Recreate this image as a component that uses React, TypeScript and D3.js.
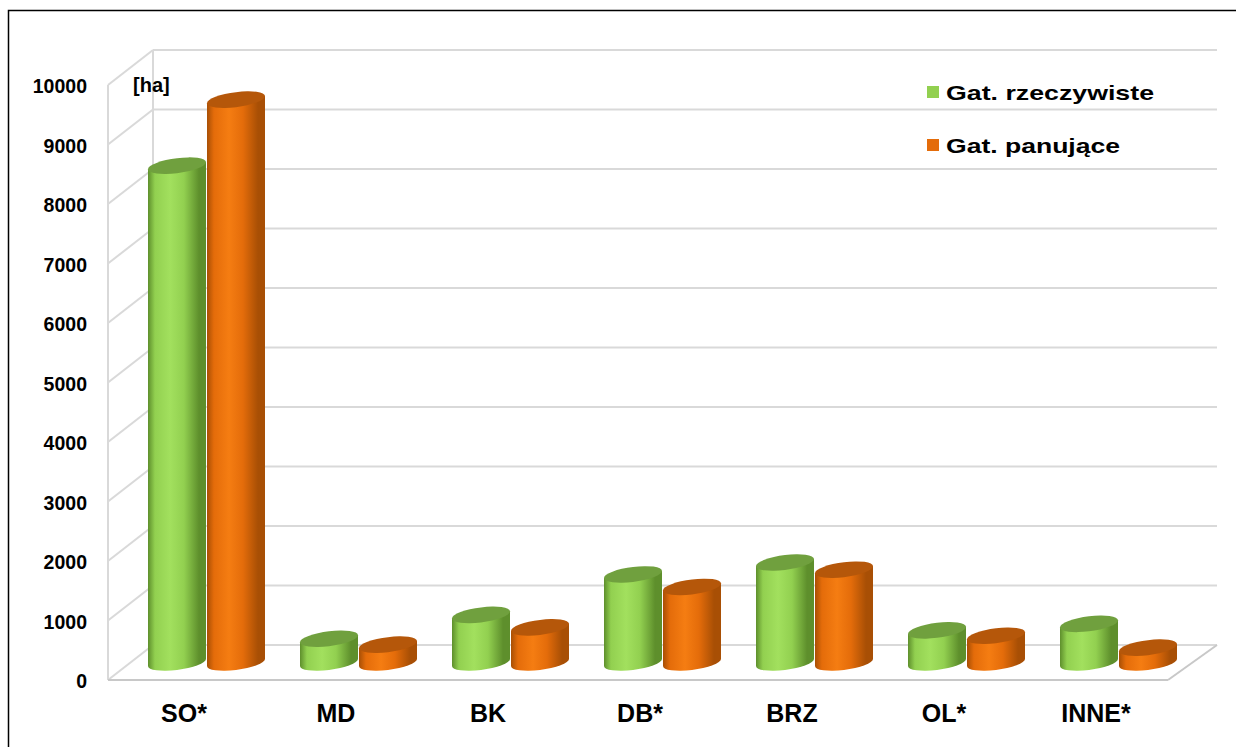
import React from "react";
import * as d3 from "d3";

const categories = ["SO*", "MD", "BK", "DB*", "BRZ", "OL*", "INNE*"];
const seriesNames = ["Gat. rzeczywiste", "Gat. panujące"];
const rzeczywiste = [8350, 400, 800, 1480, 1680, 540, 650];
const panujace = [9460, 300, 590, 1270, 1560, 450, 250];
const yTicks = [0, 1000, 2000, 3000, 4000, 5000, 6000, 7000, 8000, 9000, 10000];
const unitLabel = "[ha]";

const W = 1236;
const H = 747;
const DX = 45; // depth offset x
const DY = -35; // depth offset y
const FONT = "'Liberation Sans', Arial, sans-serif";

const colors = [
  { base: "#92d050", dark: "#5e8f2c", light: "#a2e05e", top: "#70a03e" },
  { base: "#e46c0a", dark: "#a84f05", light: "#f57d12", top: "#b5570a" },
];

export default function App() {
  const yFront = d3.scaleLinear().domain([0, 10000]).range([680, 85]);
  const xFront = d3.scaleBand<string>().domain(categories).range([108, 1172]);
  const xMid = d3.scaleBand<string>().domain(categories).range([108 + DX / 2, 1172 + DX / 2]);
  const xSeries = d3.scaleBand<number>().domain([0, 1]).range([17, 135]);
  const yMid = (v: number) => yFront(v) + DY / 2;

  const floorFrontRight = 1168;
  const rx = xSeries.bandwidth() / 2 - 0.5;
  const ry = 7.5;
  const skew = -7;
  const values = [rzeczywiste, panujace];

  const gridColor = "#d9d9d9";

  return (
    <svg
      width={W}
      height={H}
      style={{ position: "absolute", left: 0, top: 0, display: "block", background: "#fff" }}
      fontFamily={FONT}
    >
      <defs>
        {colors.map((c, i) => (
          <linearGradient key={i} id={`body${i}`} x1="0" x2="1" y1="0" y2="0">
            <stop offset="0%" stopColor={c.dark} />
            <stop offset="12%" stopColor={c.base} />
            <stop offset="38%" stopColor={c.light} />
            <stop offset="62%" stopColor={c.base} />
            <stop offset="88%" stopColor={c.dark} />
            <stop offset="100%" stopColor={c.dark} />
          </linearGradient>
        ))}
      </defs>
      <rect x={8.5} y={10.5} width={W + 20} height={H + 20} fill="#fff" stroke="#000" strokeWidth={1.5} />

      {/* back wall gridlines */}
      {yTicks.map((t) => (
        <line
          key={"bg" + t}
          x1={108 + DX}
          x2={floorFrontRight + DX + 4}
          y1={yFront(t) + DY}
          y2={yFront(t) + DY}
          stroke={gridColor}
          strokeWidth={2}
        />
      ))}
      {/* left wall diagonals */}
      {yTicks.map((t) => (
        <line
          key={"lw" + t}
          x1={108}
          x2={108 + DX}
          y1={yFront(t)}
          y2={yFront(t) + DY}
          stroke={gridColor}
          strokeWidth={2}
        />
      ))}
      <line x1={108 + DX} x2={108 + DX} y1={yFront(10000) + DY} y2={yFront(0) + DY} stroke={gridColor} strokeWidth={2} />
      <line x1={108} x2={108} y1={yFront(10000)} y2={yFront(0)} stroke={gridColor} strokeWidth={2} />
      {/* floor */}
      <line x1={108} x2={floorFrontRight} y1={yFront(0)} y2={yFront(0)} stroke="#c8c8c8" strokeWidth={2} />
      <line
        x1={floorFrontRight}
        x2={floorFrontRight + DX + 4}
        y1={yFront(0)}
        y2={yFront(0) + DY}
        stroke="#c8c8c8"
        strokeWidth={2}
      />

      {/* y tick labels */}
      {yTicks.map((t) => (
        <text
          key={"yt" + t}
          x={87}
          y={yFront(t) + 1}
          textAnchor="end"
          dominantBaseline="central"
          fontSize={19.5}
          fontWeight="bold"
          fill="#000"
        >
          {t}
        </text>
      ))}
      <text x={133} y={92} fontSize={20} fontWeight="bold" fill="#000">
        {unitLabel}
      </text>

      {/* cylinders */}
      {categories.map((cat, ci) =>
        values.map((vals, si) => {
          const cx = (xMid(cat) as number) + (xSeries(si) as number) + xSeries.bandwidth() / 2;
          const yb = yMid(0);
          const yt = yMid(vals[ci]);
          const c = colors[si];
          const body = `M${-rx},${yt} L${-rx},${yb} A${rx},${ry} 0 0 0 ${rx},${yb} L${rx},${yt} Z`;
          return (
            <g key={cat + si} transform={`translate(${cx},0) skewY(${skew})`}>
              <path d={body} fill={`url(#body${si})`} />
              <ellipse cx={0} cy={yt} rx={rx} ry={ry} fill={c.top} />
            </g>
          );
        })
      )}

      {/* category labels */}
      {categories.map((cat) => (
        <text
          key={"cl" + cat}
          x={(xFront(cat) as number) + xFront.bandwidth() / 2}
          y={722}
          textAnchor="middle"
          fontSize={25}
          fontWeight="bold"
          fill="#000"
        >
          {cat}
        </text>
      ))}

      {/* legend */}
      {seriesNames.map((name, i) => (
        <g key={"lg" + name}>
          <rect x={927} y={86 + i * 53} width={12} height={12} fill={colors[i].base} />
          <text
            x={946}
            y={92 + i * 53}
            dominantBaseline="central"
            fontSize={21}
            fontWeight="bold"
            fill="#000"
            textLength={i === 0 ? 208 : 174}
            lengthAdjust="spacingAndGlyphs"
          >
            {name}
          </text>
        </g>
      ))}
    </svg>
  );
}
